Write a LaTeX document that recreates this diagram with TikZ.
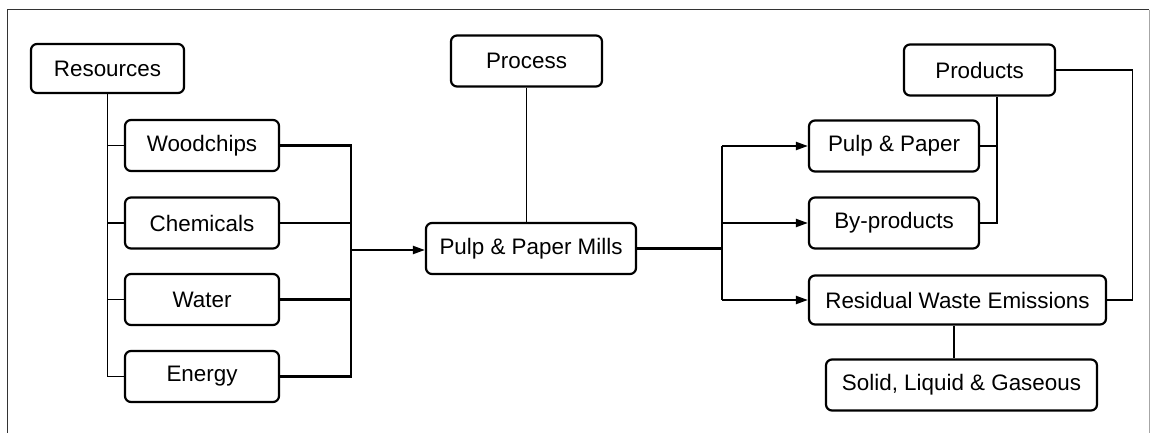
\documentclass[tikz,border=0pt]{standalone}
\usepackage{fontspec}
\setmainfont{Liberation Sans}
\usetikzlibrary{arrows.meta}
\begin{document}
\begin{tikzpicture}[x=1pt,y=-1pt,
  box/.style={draw, line width=2.2pt, rounded corners=6pt, inner sep=0pt,
    minimum height=51pt, font=\fontsize{22.4}{26}\selectfont},
  tree/.style={line width=1.1pt},
  flow/.style={line width=2.1pt},
  arr/.style={flow, -{Triangle[length=12pt,width=8pt]}},
  frame/.style={line width=1pt, black!80}]
\useasboundingbox (0,0) rectangle (1158,433);

% outer frame
\draw[frame] (7,433) -- (7,10) -- (1149,10);
\draw[line width=0.8pt, black!35] (1149,10) -- (1149,433);

% resources
\node[box, minimum width=153pt, minimum height=49pt] (res) at (107.5,68.5) {Resources};
\node[box, minimum width=154pt] (wood)   at (202,145.5) {Woodchips};
\node[box, minimum width=154pt] (chem)   at (202,223)   {Chemicals};
\node[box, minimum width=154pt] (water)  at (202,299.5) {Water};
\node[box, minimum width=154pt] (energy) at (202,376.5) {Energy};

% process
\node[box, minimum width=151pt] (proc)  at (526.5,61)  {Process};
\node[box, minimum width=210pt] (mills) at (531,248.5) {Pulp \& Paper Mills};

% products
\node[box, minimum width=151pt] (prod)  at (979.5,70)  {Products};
\node[box, minimum width=170pt] (pp)    at (894,146)   {Pulp \& Paper};
\node[box, minimum width=170pt] (byp)   at (894,223)   {By-products};
\node[box, minimum width=297pt, minimum height=49pt] (waste) at (957.5,300) {Residual Waste Emissions};
\node[box, minimum width=271pt] (solid) at (961.5,385) {Solid, Liquid \& Gaseous};

% resource tree
\draw[tree] (res.south) |- (wood.west);
\draw[tree] (res.south) |- (chem.west);
\draw[tree] (res.south) |- (water.west);
\draw[tree] (res.south) |- (energy.west);

% inputs gathered into the mills
\coordinate (jtop) at (351,145.5);
\draw[flow] (wood.east) -- (jtop) -- (jtop |- energy.east) -- (energy.east);
\draw[flow] (chem.east) -- (chem.east -| jtop);
\draw[flow] (water.east) -- (water.east -| jtop);
\draw[arr] (jtop |- 0,250) -- (mills.west |- 0,250);

% process link
\draw[tree] (proc.south) -- (proc.south |- mills.north);

% outputs of the mills
\coordinate (jout) at (722,248.5);
\draw[flow] (mills.east) -- (jout);
\draw[flow] (jout |- pp.west) -- (jout |- waste.west);
\draw[arr] (jout |- pp.west) -- (pp.west);
\draw[arr] (jout |- byp.west) -- (byp.west);
\draw[arr] (jout |- waste.west) -- (waste.west);

% product tree
\coordinate (pv) at ([xshift=17.5pt]prod.south);
\draw[tree] (pv) |- (byp.east);
\draw[tree] (pp.east) -- (pp.east -| pv);
\draw[tree] (prod.east) -- ++(76,0) |- (waste.east);

% emission types
\draw[flow, line width=1.5pt] ([xshift=-3.5pt]waste.south) -- ([xshift=-3.5pt]waste.south |- solid.north);
\end{tikzpicture}
\end{document}
